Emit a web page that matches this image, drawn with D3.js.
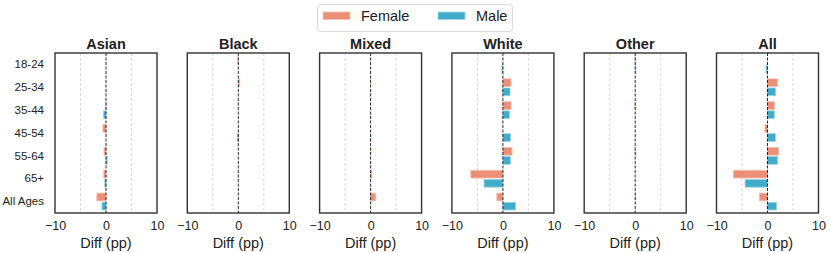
<!DOCTYPE html>
<html>
<head>
<meta charset="utf-8">
<script src="https://cdn.jsdelivr.net/npm/d3@7"></script>
<style>
  body { margin: 0; background: #fff; }
  svg { display: block; font-family: Arial, "Liberation Sans", sans-serif; }
</style>
</head>
<body>
<div id="main"></div>
<script>
// categories
var groups = ["Asian", "Black", "Mixed", "White", "Other", "All"]
var ages = ["18-24", "25-34", "35-44", "45-54", "55-64", "65+", "All Ages"]
var xTicks = [-10, 0, 10]

// diff in percentage points, per group (female / male)
var asianF = [0, 0, -0.1, -0.6, -0.4, -0.45, -1.8]
var asianM = [0, 0, -0.5, 0, 0.25, -0.25, -0.8]
var blackF = [-0.1, 0.3, 0, 0, 0, 0, 0]
var blackM = [0, 0, 0, -0.2, 0, 0, 0]
var mixedF = [0, -0.05, 0, 0, -0.05, 0.25, 1.0]
var mixedM = [0, 0, 0, 0.05, 0, 0, 0]
var whiteF = [0, 1.6, 1.6, 0, 1.8, -6.3, -1.2]
var whiteM = [-0.2, 1.4, 1.3, 1.5, 1.5, -3.7, 2.5]
var otherF = [0.1, 0, -0.05, 0, 0.1, 0, 0.05]
var otherM = [0.15, 0, 0, 0, 0, 0, 0]
var allF = [0, 2.0, 1.4, -0.5, 2.2, -6.7, -1.6]
var allM = [-0.3, 1.6, 1.4, 1.6, 2.0, -4.4, 1.8]

var femaleVals = [asianF, blackF, mixedF, whiteF, otherF, allF]
var maleVals = [asianM, blackM, mixedM, whiteM, otherM, allM]

var dimensions = {
  width: 830,
  height: 253,
  margin: { top: 53, bottom: 40, left: 55, right: 11.5 }
}
var femaleColor = "#ec8f77", femaleEdge = "#f6c2b3"
var maleColor = "#41acc9", maleEdge = "#a3d6e5"

var svg = d3.select("#main")
            .append("svg")
            .attr("width", dimensions.width)
            .attr("height", dimensions.height)

var panel = d3.scaleBand()
              .domain(groups)
              .range([dimensions.margin.left, dimensions.width - dimensions.margin.right])
              .paddingInner(0.229)
              .paddingOuter(0)

var y = d3.scaleBand()
          .domain(ages)
          .range([dimensions.margin.top, dimensions.height - dimensions.margin.bottom])

var barH = y.bandwidth() * 0.34
var offs = y.bandwidth() * 0.2

groups.forEach(function(g, gi) {
  var x0 = panel(g)
  var x = d3.scaleLinear().domain([-10, 10]).range([x0, x0 + panel.bandwidth()])
  var G = svg.append("g")

  // grid at +/-5
  G.selectAll(".grid")
   .data([-5, 5])
   .enter()
   .append("line")
   .attr("x1", function(d){ return x(d) }).attr("x2", function(d){ return x(d) })
   .attr("y1", y.range()[0]).attr("y2", y.range()[1])
   .attr("stroke", "#cfcfcf")
   .attr("stroke-width", 0.8)
   .attr("stroke-dasharray", "3,2")

  var rows = ages.map(function(a, i){ return { age: a, f: femaleVals[gi][i], m: maleVals[gi][i] } })

  G.selectAll(".fbar")
   .data(rows)
   .enter()
   .append("rect")
   .attr("x", function(d){ return x(Math.min(0, d.f)) })
   .attr("width", function(d){ return Math.abs(x(d.f) - x(0)) })
   .attr("y", function(d){ return y(d.age) + y.bandwidth()/2 - offs - barH/2 })
   .attr("height", barH)
   .attr("fill", femaleColor)
   .attr("stroke", femaleEdge)
   .attr("stroke-width", 0.8)

  G.selectAll(".mbar")
   .data(rows)
   .enter()
   .append("rect")
   .attr("x", function(d){ return x(Math.min(0, d.m)) })
   .attr("width", function(d){ return Math.abs(x(d.m) - x(0)) })
   .attr("y", function(d){ return y(d.age) + y.bandwidth()/2 + offs - barH/2 })
   .attr("height", barH)
   .attr("fill", maleColor)
   .attr("stroke", maleEdge)
   .attr("stroke-width", 0.8)

  // zero line
  G.append("line")
   .attr("x1", x(0)).attr("x2", x(0))
   .attr("y1", y.range()[0]).attr("y2", y.range()[1])
   .attr("stroke", "#111")
   .attr("stroke-width", 0.9)
   .attr("stroke-dasharray", "3,1.5")

  // frame
  G.append("rect")
   .attr("x", x0).attr("y", y.range()[0])
   .attr("width", panel.bandwidth())
   .attr("height", y.range()[1] - y.range()[0])
   .attr("fill", "none")
   .attr("stroke", "#333")
   .attr("stroke-width", 1.4)

  // x axis
  var xAxis = d3.axisBottom(x).tickValues(xTicks).tickSize(0).tickPadding(8)
                .tickFormat(function(d){ return d < 0 ? "\u2212" + Math.abs(d) : d })
  var ax = G.append("g")
            .attr("transform", "translate(0," + y.range()[1] + ")")
            .call(xAxis)
  ax.select(".domain").remove()
  ax.selectAll("text").style("font-size", "12.5px").attr("fill", "#222")
    .attr("font-family", "Arial, 'Liberation Sans', sans-serif")

  G.append("text")
   .attr("x", x(0)).attr("y", 248)
   .attr("text-anchor", "middle")
   .style("font-size", "14.5px")
   .attr("fill", "#222")
   .text("Diff (pp)")

  G.append("text")
   .attr("x", x(0)).attr("y", 49)
   .attr("text-anchor", "middle")
   .style("font-size", "14.5px")
   .style("font-weight", "bold")
   .attr("fill", "#222")
   .text(g)

  if (gi == 0) {
    var yAxis = d3.axisLeft(y).tickSize(0).tickPadding(11)
    var ay = G.append("g")
              .attr("transform", "translate(" + x0 + ",0)")
              .call(yAxis)
    ay.select(".domain").remove()
    ay.selectAll("text").style("font-size", "11.5px").attr("fill", "#222")
      .attr("font-family", "Arial, 'Liberation Sans', sans-serif")
  }
})

// legend
var legend = svg.append("g")
legend.append("rect")
      .attr("x", 317.5).attr("y", 4.5)
      .attr("width", 195).attr("height", 27)
      .attr("rx", 3)
      .attr("fill", "#fff")
      .attr("stroke", "#d6d6d6")
      .attr("stroke-width", 0.9)
var legendItems = [
  { label: "Female", color: femaleColor, edge: femaleEdge, x: 323 },
  { label: "Male", color: maleColor, edge: maleEdge, x: 438 }
]
legendItems.forEach(function(it) {
  legend.append("rect")
        .attr("x", it.x).attr("y", 12).attr("width", 27).attr("height", 7.5)
        .attr("fill", it.color).attr("stroke", it.edge).attr("stroke-width", 0.8)
  legend.append("text")
        .attr("x", it.x + 38).attr("y", 21)
        .style("font-size", "14.5px")
        .attr("fill", "#222")
        .text(it.label)
})
</script>
</body>
</html>
